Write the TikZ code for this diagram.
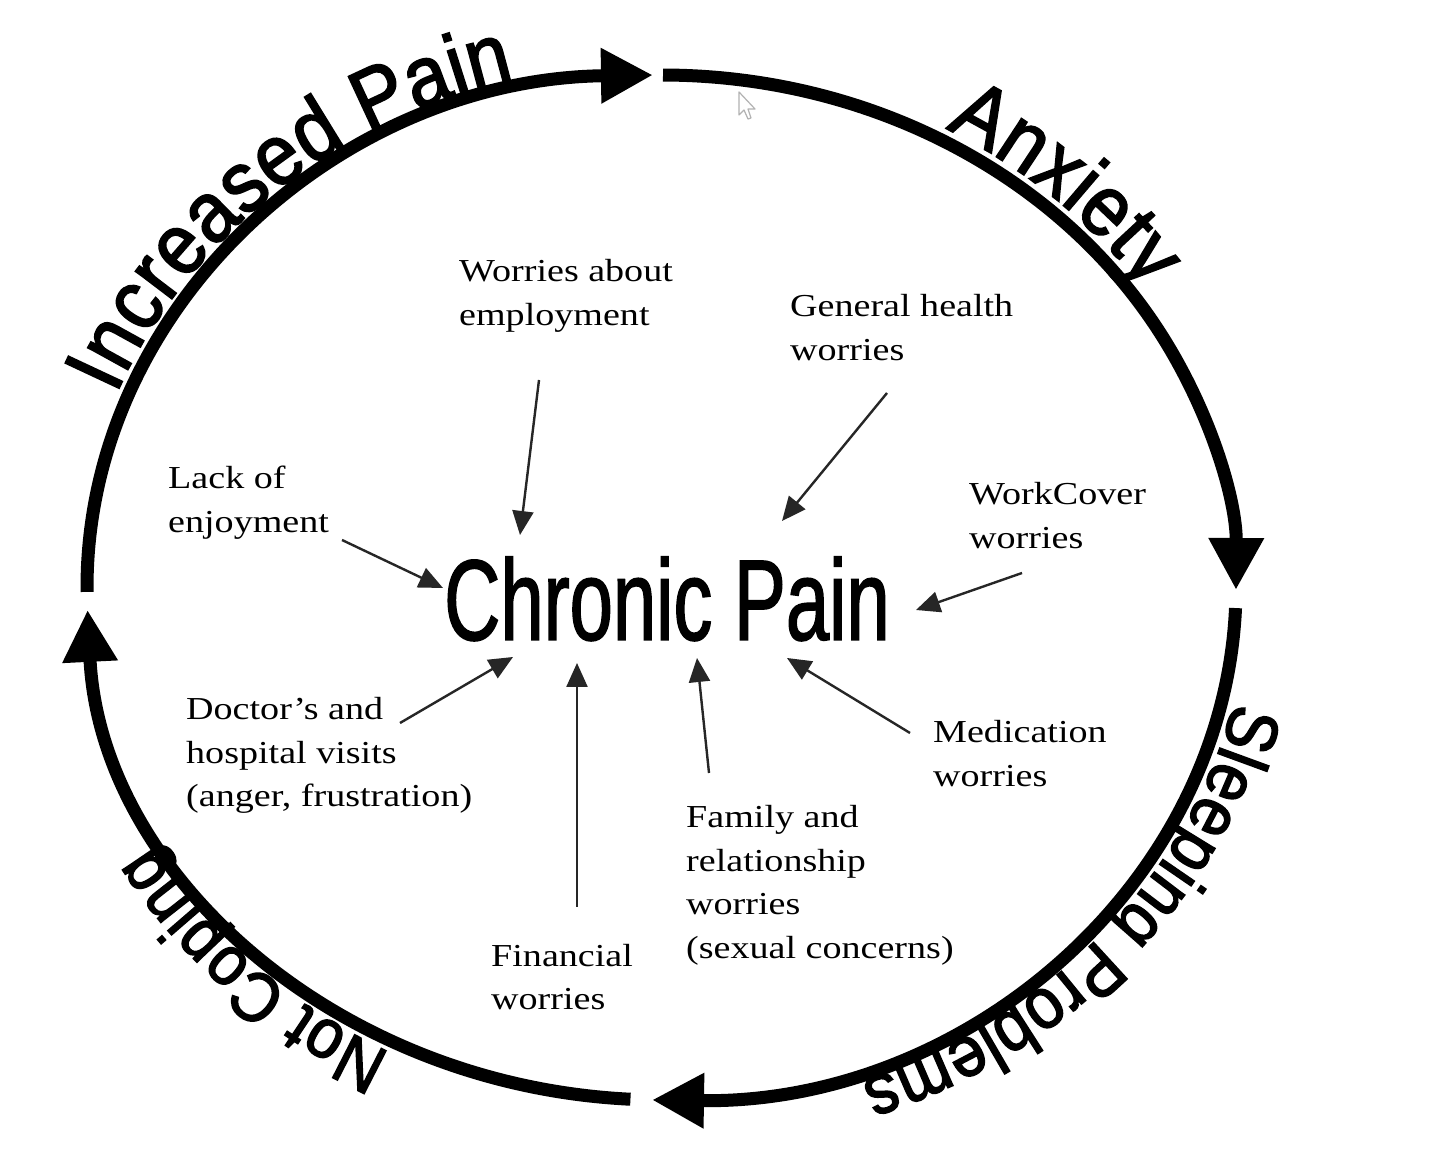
\documentclass[tikz,border=0pt]{standalone}
\usepackage{fontspec}
\usepackage{graphicx}
\setmainfont{Liberation Serif}
\setsansfont{Liberation Sans}
\newfontfamily\satfont[FakeStretch=1.19]{Liberation Serif}
\newfontfamily\cpfont[FakeStretch=0.677,FakeBold=1.2]{Liberation Sans}
\newfontfamily\arcfont[FakeStretch=0.9,FakeBold=2.2]{Liberation Sans}
\usetikzlibrary{arrows.meta,decorations.text}
\newcommand\satlines[1]{\begin{tabular}[t]{@{}l@{}}#1\end{tabular}}
\tikzset{
  cyclearc/.style={line width=13pt, line cap=butt, -{Triangle[length=52pt,width=52pt]}},
  arctext/.style={decorate, decoration={text along path, text={#1}, raise=12pt, text align=left}},
  feeder/.style={line width=2.4pt, draw=black!85, -{Triangle[length=24pt,width=21pt]}},
  sat/.style={anchor=base west, inner sep=0pt, font=\satfont\fontsize{32}{43.5}\selectfont},
}
\begin{document}
\begin{tikzpicture}[x=1pt,y=1pt]
\useasboundingbox (0,0) rectangle (1440,1149);
\fill[white] (0,0) rectangle (1440,1149);
\coordinate (C) at (661.5,561.5);

% outer cycle
\draw[cyclearc] (C) ++(180.5:574.5 and 512.5) arc[start angle=180.5, end angle=90.85, x radius=574.5, y radius=512.5];
\draw[cyclearc] (C) ++(89.85:574.5 and 512.5) arc[start angle=89.85, end angle=-0.28, x radius=574.5, y radius=512.5];
\draw[cyclearc] (C) ++(-2.3:574.5 and 512.5) arc[start angle=-2.3, end angle=-90.95, x radius=574.5, y radius=512.5];
\draw[cyclearc] (C) ++(266.9:574.5 and 512.5) arc[start angle=266.9, end angle=182.5, x radius=574.5, y radius=512.5];

% texts along the cycle
\path[arctext={|\arcfont\fontsize{86}{90}\selectfont|Increased Pain}] (C) ++(158.5:574.5 and 512.5) arc[start angle=158.5, end angle=60, x radius=574.5, y radius=512.5];
\path[arctext={|\arcfont\fontsize{86}{90}\selectfont|Anxiety}] (C) ++(61:574.5 and 512.5) arc[start angle=61, end angle=-20, x radius=574.5, y radius=512.5];
\path[arctext={|\arcfont\fontsize{72}{76}\selectfont|Sleeping Problems}] (C) ++(-12.5:574.5 and 512.5) arc[start angle=-12.5, end angle=-110, x radius=574.5, y radius=512.5];
\path[arctext={|\arcfont\fontsize{70}{74}\selectfont|Not Coping}] (C) ++(242.5:574.5 and 512.5) arc[start angle=242.5, end angle=170, x radius=574.5, y radius=512.5];

% mouse pointer
\draw[gray!60, line width=1.2pt, line join=round] (739,1057) -- (739,1034) -- (744,1039) -- (748,1030) -- (751,1031) -- (748,1040) -- (755,1040) -- cycle;

% centre
\node[anchor=base west, inner sep=0pt] (cp) at (444,509) {\cpfont\fontsize{115}{120}\selectfont Chronic Pain};

% satellites
\node[sat] (emp) at (459,867) {\satlines{Worries about\\employment}};
\node[sat] (gen) at (790,832) {\satlines{General health\\worries}};
\node[sat] (lack) at (168,660) {\satlines{Lack of\\enjoyment}};
\node[sat] (wc) at (969,644) {\satlines{WorkCover\\worries}};
\node[sat] (doc) at (186,429) {\satlines{Doctor’s and\\hospital visits\\(anger, frustration)}};
\node[sat] (med) at (933,406) {\satlines{Medication\\worries}};
\node[sat] (fam) at (686,321) {\satlines{Family and\\relationship\\worries\\(sexual concerns)}};
\node[sat] (fin) at (491,183) {\satlines{Financial\\worries}};

% connector ends
\coordinate (emp-s) at (539,769);  \coordinate (emp-t) at (520,614);
\coordinate (gen-s) at (887,756);  \coordinate (gen-t) at (782,628);
\coordinate (wc-s) at (1022,576);  \coordinate (wc-t) at (916,539);
\coordinate (med-s) at (910,416);  \coordinate (med-t) at (787,491);
\coordinate (fam-s) at (709,376);  \coordinate (fam-t) at (697,491);
\coordinate (fin-s) at (577,242);  \coordinate (fin-t) at (577,486);
\coordinate (doc-s) at (400,426);  \coordinate (doc-t) at (513,492);
\coordinate (lack-s) at (342,609); \coordinate (lack-t) at (443,561);

\foreach \n in {emp,gen,wc,med,fam,fin,doc,lack}
  \draw[feeder] (\n-s) -- (\n-t);
\end{tikzpicture}
\end{document}
